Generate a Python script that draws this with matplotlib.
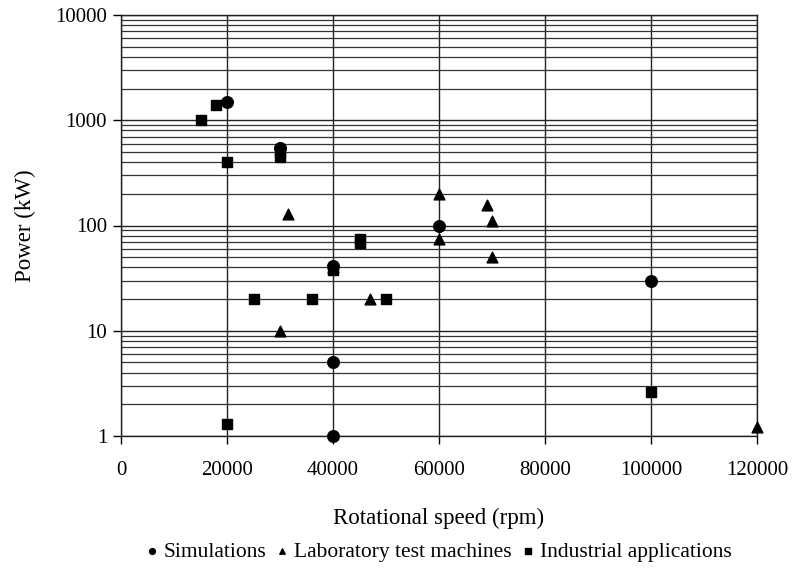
import matplotlib
matplotlib.use("Agg")
import matplotlib.pyplot as plt
from matplotlib.ticker import FixedLocator, FuncFormatter, LogLocator, NullFormatter

plt.rcParams['font.family'] = ['Liberation Serif', 'DejaVu Serif']

sim_x = [20000, 30000, 40000, 40000, 40000, 60000, 100000]
sim_y = [1500, 550, 41, 5.1, 1.0, 100, 30]

lab_x = [31500, 30000, 40000, 47000, 60000, 60000, 69000, 70000, 70000, 120000]
lab_y = [130, 10, 40, 20, 200, 75, 155, 110, 50, 1.22]

ind_x = [15000, 18000, 20000, 30000, 30000, 20000, 25000, 36000, 50000, 45000, 45000, 100000, 40000]
ind_y = [1000, 1400, 400, 500, 450, 1.3, 20, 20, 20, 75, 68, 2.6, 38]

x_ticks = [0, 20000, 40000, 60000, 80000, 100000, 120000]
y_ticks = [1, 10, 100, 1000, 10000]

fig = plt.figure(figsize=(7.93, 5.70), dpi=100)
ax = fig.add_axes([121/793, 1-436/570, (757-121)/793, (436-15)/570])

ax.set_yscale('log')
ax.set_xlim(0, 120000)
ax.set_ylim(1, 10000)
ax.xaxis.set_major_locator(FixedLocator(x_ticks))
ax.yaxis.set_major_locator(FixedLocator(y_ticks))
ax.yaxis.set_minor_locator(LogLocator(base=10, subs=range(2, 10)))
ax.yaxis.set_minor_formatter(NullFormatter())
ax.yaxis.set_major_formatter(FuncFormatter(lambda v, p: f"{int(round(v))}"))
ax.xaxis.set_major_formatter(FuncFormatter(lambda v, p: f"{int(round(v))}"))

ax.grid(True, which='major', axis='both', color='#222222', linewidth=1.0)
ax.grid(True, which='minor', axis='y', color='#333333', linewidth=0.9)
ax.set_axisbelow(True)

ax.tick_params(axis='both', which='major', direction='out', length=6, width=1,
               labelsize=15, color='black')
ax.tick_params(axis='y', which='minor', length=0)
ax.tick_params(axis='y', pad=4)
ax.tick_params(axis='x', pad=12)
for s in ax.spines.values():
    s.set_color('#222222')
    s.set_linewidth(1.0)

ax.scatter(sim_x, sim_y, marker='o', s=70, color='black', zorder=3, label='Simulations', clip_on=False)
ax.scatter(lab_x, lab_y, marker='^', s=60, color='black', zorder=3, label='Laboratory test machines', clip_on=False)
ax.scatter(ind_x, ind_y, marker='s', s=60, color='black', zorder=3, label='Industrial applications', clip_on=False)

ax.set_xlabel('Rotational speed (rpm)', fontsize=16.5, labelpad=20)
ax.set_ylabel('Power (kW)', fontsize=16.5, labelpad=14)

handles, labels = ax.get_legend_handles_labels()
leg = fig.legend(handles, labels, loc='center', bbox_to_anchor=(439/793, 1-552/570), ncol=3,
                 frameon=False, fontsize=15.5, handlelength=0.5, handletextpad=0.3,
                 columnspacing=0.5, markerscale=0.5)

fig.savefig('out.png', dpi=100)
